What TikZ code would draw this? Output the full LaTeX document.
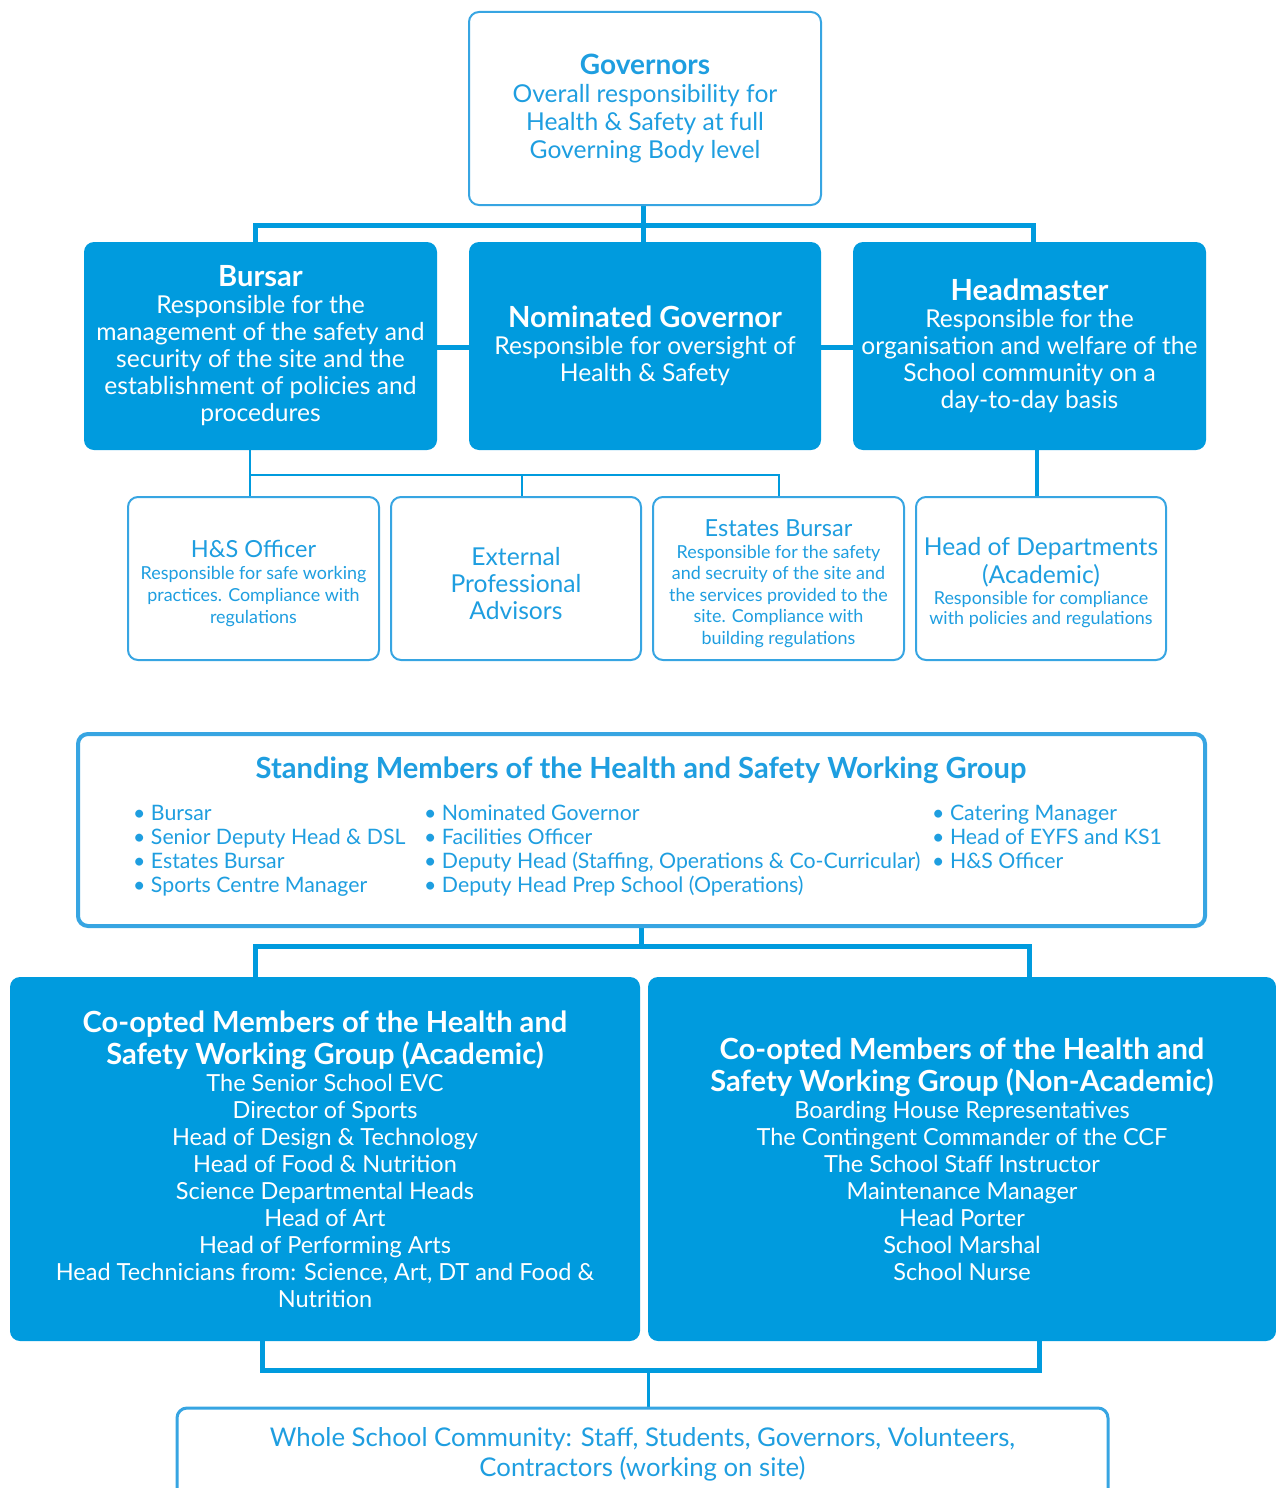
\documentclass[tikz,border=0pt]{standalone}
\usepackage{fontspec}
\setmainfont[Scale=1.12]{Lato}
\usetikzlibrary{calc}
\definecolor{hsblue}{RGB}{0,155,222}
\definecolor{hstext}{RGB}{30,158,224}
\definecolor{hsline}{RGB}{55,165,226}
\newcommand\fsz[2]{\fontsize{#1}{#2}\selectfont}
\newcommand\tallstrut[1]{\rule{0pt}{#1}}
\begin{document}
\begin{tikzpicture}[x=1pt,y=-1pt,
 wh/.style 2 args={minimum width=#1, minimum height=#2},
 outbox/.style={draw=hsline, line width=2pt, rounded corners=10pt, fill=white, align=center, text=hstext, inner sep=3pt},
 fillbox/.style={fill=hsblue, rounded corners=10pt, align=center, text=white, inner sep=3pt},
 conn/.style={draw=hsblue, line width=5pt},
 thinconn/.style={draw=hsblue, line width=2.5pt},
 listtext/.style={anchor=north west, align=left, text=hstext, inner sep=0pt, font=\fsz{19}{24}}]

\useasboundingbox (0,0) rectangle (1276,1488);

% junction coordinates
\coordinate (ja) at (255,225);
\coordinate (jb) at (1033,225);
\coordinate (kL) at (250,475);
\coordinate (kM) at (522,475);
\coordinate (kR) at (779,475);
\coordinate (kH) at (1037,475);
\coordinate (mL) at (255,946);
\coordinate (mR) at (1029,946);
\coordinate (nL) at (262,1370);
\coordinate (nM) at (648,1370);
\coordinate (nR) at (1039,1370);

% connectors (behind boxes)
\draw[conn] (ja |- 0,250) -- (ja) -- (jb) -- (jb |- 0,250);
\draw[conn] (643,200) -- (643,250);
\draw[conn] (260,347) -- (1030,347);
\draw[thinconn] (kL |- 0,445) -- (kL |- 0,500);
\draw[thinconn] (kL) -- (kR) -- (kR |- 0,500);
\draw[thinconn] (kM) -- (kM |- 0,500);
\draw[conn, line width=3.5pt] (kH |- 0,445) -- (kH |- 0,500);
\draw[conn] (641,920) -- (641,946);
\draw[conn] (mL |- 0,985) -- (mL) -- (mR) -- (mR |- 0,985);
\draw[conn] (nL |- 0,1335) -- (nL) -- (nR) -- (nR |- 0,1335);
\draw[thinconn, line width=3pt] (nM) -- (nM |- 0,1412);

% Governors
\node[outbox, wh={352pt}{193pt}, font=\fsz{22}{28}] (gov) at (645,108.5)
 {{\fsz{25}{28}\bfseries Governors}\\Overall responsibility for\\Health \& Safety at full\\Governing Body level};

% Row 2
\node[fillbox, wh={353pt}{208pt}, font=\fsz{22}{27}] (bursar) at (260.5,346)
 {{\fsz{26}{29}\bfseries Bursar}\\Responsible for the\\management of the safety and\\security of the site and the\\establishment of policies and\\procedures\rule[-4pt]{0pt}{0pt}};
\node[fillbox, wh={352pt}{208pt}, font=\fsz{22}{27}] (nom) at (645,346)
 {{\fsz{26}{30}\bfseries Nominated Governor}\\Responsible for oversight of\\Health \& Safety};
\node[fillbox, wh={353pt}{208pt}, font=\fsz{22}{27}] (head) at (1029.5,346)
 {{\fsz{26}{30}\bfseries Headmaster}\\Responsible for the\\organisation and welfare of the\\School community on a\\day-to-day basis};

% Row 3
\node[outbox, wh={251pt}{163pt}, font=\fsz{16}{22}] (hs) at (253.5,578.5)
 {{\fsz{21}{24}\tallstrut{27pt}H\&S Officer}\\Responsible for safe working\\practices. Compliance with\\regulations};
\node[outbox, wh={250pt}{163pt}, font=\fsz{22}{27}] (ext) at (516,578.5)
 {\tallstrut{28pt}External\\Professional\\Advisors};
\node[outbox, wh={251pt}{163pt}, font=\fsz{16}{21.5}] (est) at (778.5,578.5)
 {{\fsz{21}{24}\tallstrut{27pt}Estates Bursar}\\Responsible for the safety\\and secruity of the site and\\the services provided to the\\site. Compliance with\\building regulations};
\node[outbox, wh={250pt}{163pt}, font=\fsz{16}{20}] (hod) at (1041,578.5)
 {{\fsz{22}{28}\tallstrut{26pt}Head of Departments}\\[4pt]{\fsz{22}{27}(Academic)}\\[1pt]Responsible for compliance\\with policies and regulations};

% Standing members
\node[outbox, line width=4pt, wh={1127pt}{192pt}] (stand) at (641.5,830) {};
\node[text=hstext, font=\fsz{26}{30}\bfseries, inner sep=0pt] (standtitle) at (641,770)
 {Standing Members of the Health and Safety Working Group};
\node[listtext] (col1) at (133,805)
 {• Bursar\\• Senior Deputy Head \& DSL\\• Estates Bursar\\• Sports Centre Manager};
\node[listtext] (col2) at (424,805)
 {• Nominated Governor\\• Facilities Officer\\• Deputy Head (Staffing, Operations \& Co-Curricular)\\• Deputy Head Prep School (Operations)};
\node[listtext] (col3) at (932,805)
 {• Catering Manager\\• Head of EYFS and KS1\\• H\&S Officer};

% Co-opted
\node[fillbox, wh={630pt}{364pt}, font=\fsz{21}{27}] (acad) at (325,1159)
 {{\fsz{26}{32}\bfseries Co-opted Members of the Health and}\\[3pt]{\fsz{26}{32}\bfseries Safety Working Group (Academic)}\\The Senior School EVC\\Director of Sports\\Head of Design \& Technology\\Head of Food \& Nutrition\\Science Departmental Heads\\Head of Art\\Head of Performing Arts\\Head Technicians from: Science, Art, DT and Food \&\\Nutrition};
\node[fillbox, wh={628pt}{364pt}, font=\fsz{21}{27}] (non) at (962,1159)
 {{\fsz{26}{32}\bfseries Co-opted Members of the Health and}\\[3pt]{\fsz{26}{32}\bfseries Safety Working Group (Non-Academic)}\\Boarding House Representatives\\The Contingent Commander of the CCF\\The School Staff Instructor\\Maintenance Manager\\Head Porter\\School Marshal\\School Nurse};

% Whole school
\node[outbox, line width=3pt, wh={931pt}{92pt}, font=\fsz{23}{30}] (whole) at (642.5,1454)
 {Whole School Community: Staff, Students, Governors, Volunteers,\\Contractors (working on site)};

\end{tikzpicture}
\end{document}
